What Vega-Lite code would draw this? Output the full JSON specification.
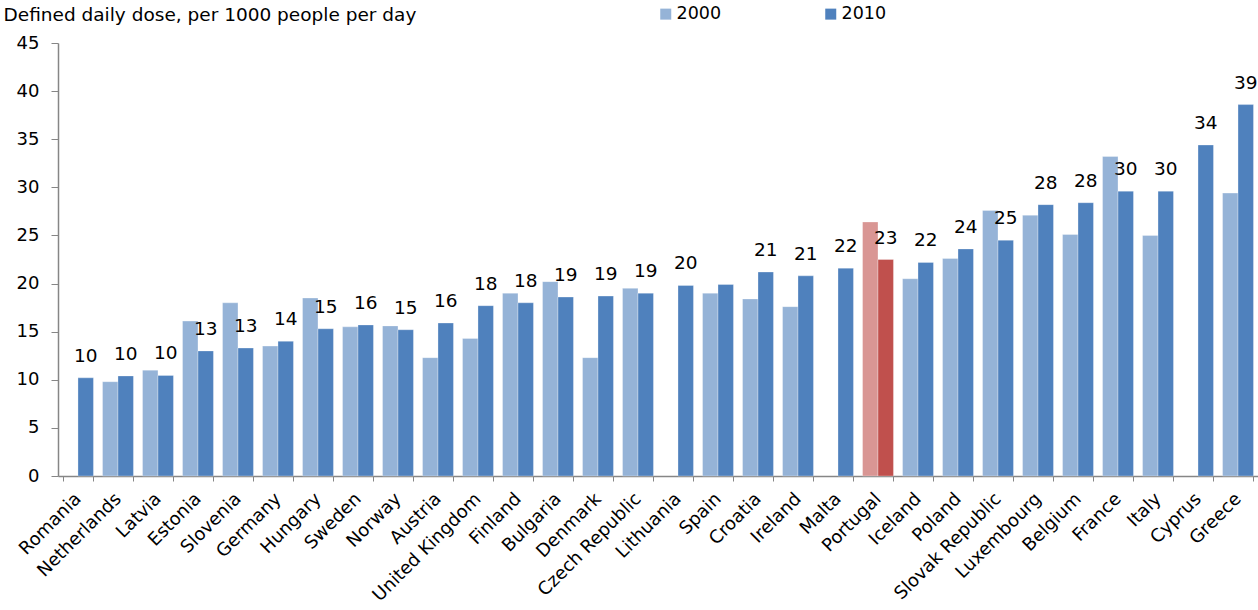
{
  "$schema": "https://vega.github.io/schema/vega-lite/v6.json",
  "width": 1200,
  "height": 433,
  "autosize": {"type": "none"},
  "padding": {"left": 58, "top": 43, "right": 0, "bottom": 134},
  "background": "white",
  "config": {
    "view": {"stroke": null},
    "font": "DejaVu Sans",
    "axis": {"labelFont": "DejaVu Sans", "titleFont": "DejaVu Sans", "labelColor": "#000000", "titleColor": "#000000"},
    "legend": {"labelFont": "DejaVu Sans"}
  },
  "data": {
    "values": [
      {"country": "Romania", "year": "2010", "series": "2010", "value": 10.2, "label": "10"},
      {"country": "Netherlands", "year": "2000", "series": "2000", "value": 9.8},
      {"country": "Netherlands", "year": "2010", "series": "2010", "value": 10.4, "label": "10"},
      {"country": "Latvia", "year": "2000", "series": "2000", "value": 11.0},
      {"country": "Latvia", "year": "2010", "series": "2010", "value": 10.45, "label": "10"},
      {"country": "Estonia", "year": "2000", "series": "2000", "value": 16.1},
      {"country": "Estonia", "year": "2010", "series": "2010", "value": 13.0, "label": "13"},
      {"country": "Slovenia", "year": "2000", "series": "2000", "value": 18.0},
      {"country": "Slovenia", "year": "2010", "series": "2010", "value": 13.3, "label": "13"},
      {"country": "Germany", "year": "2000", "series": "2000", "value": 13.5},
      {"country": "Germany", "year": "2010", "series": "2010", "value": 14.0, "label": "14"},
      {"country": "Hungary", "year": "2000", "series": "2000", "value": 18.5},
      {"country": "Hungary", "year": "2010", "series": "2010", "value": 15.3, "label": "15"},
      {"country": "Sweden", "year": "2000", "series": "2000", "value": 15.5},
      {"country": "Sweden", "year": "2010", "series": "2010", "value": 15.7, "label": "16"},
      {"country": "Norway", "year": "2000", "series": "2000", "value": 15.6},
      {"country": "Norway", "year": "2010", "series": "2010", "value": 15.2, "label": "15"},
      {"country": "Austria", "year": "2000", "series": "2000", "value": 12.3},
      {"country": "Austria", "year": "2010", "series": "2010", "value": 15.9, "label": "16"},
      {"country": "United Kingdom", "year": "2000", "series": "2000", "value": 14.3},
      {"country": "United Kingdom", "year": "2010", "series": "2010", "value": 17.7, "label": "18"},
      {"country": "Finland", "year": "2000", "series": "2000", "value": 19.0},
      {"country": "Finland", "year": "2010", "series": "2010", "value": 18.0, "label": "18"},
      {"country": "Bulgaria", "year": "2000", "series": "2000", "value": 20.2},
      {"country": "Bulgaria", "year": "2010", "series": "2010", "value": 18.6, "label": "19"},
      {"country": "Denmark", "year": "2000", "series": "2000", "value": 12.3},
      {"country": "Denmark", "year": "2010", "series": "2010", "value": 18.7, "label": "19"},
      {"country": "Czech Republic", "year": "2000", "series": "2000", "value": 19.5},
      {"country": "Czech Republic", "year": "2010", "series": "2010", "value": 19.0, "label": "19"},
      {"country": "Lithuania", "year": "2010", "series": "2010", "value": 19.8, "label": "20"},
      {"country": "Spain", "year": "2000", "series": "2000", "value": 19.0},
      {"country": "Spain", "year": "2010", "series": "2010", "value": 19.9, "label": ""},
      {"country": "Croatia", "year": "2000", "series": "2000", "value": 18.4},
      {"country": "Croatia", "year": "2010", "series": "2010", "value": 21.2, "label": "21"},
      {"country": "Ireland", "year": "2000", "series": "2000", "value": 17.6},
      {"country": "Ireland", "year": "2010", "series": "2010", "value": 20.8, "label": "21"},
      {"country": "Malta", "year": "2010", "series": "2010", "value": 21.6, "label": "22"},
      {"country": "Portugal", "year": "2000", "series": "Portugal 2000", "value": 26.4},
      {"country": "Portugal", "year": "2010", "series": "Portugal 2010", "value": 22.5, "label": "23"},
      {"country": "Iceland", "year": "2000", "series": "2000", "value": 20.5},
      {"country": "Iceland", "year": "2010", "series": "2010", "value": 22.2, "label": "22"},
      {"country": "Poland", "year": "2000", "series": "2000", "value": 22.6},
      {"country": "Poland", "year": "2010", "series": "2010", "value": 23.6, "label": "24"},
      {"country": "Slovak Republic", "year": "2000", "series": "2000", "value": 27.6},
      {"country": "Slovak Republic", "year": "2010", "series": "2010", "value": 24.5, "label": "25"},
      {"country": "Luxembourg", "year": "2000", "series": "2000", "value": 27.1},
      {"country": "Luxembourg", "year": "2010", "series": "2010", "value": 28.2, "label": "28"},
      {"country": "Belgium", "year": "2000", "series": "2000", "value": 25.1},
      {"country": "Belgium", "year": "2010", "series": "2010", "value": 28.4, "label": "28"},
      {"country": "France", "year": "2000", "series": "2000", "value": 33.2},
      {"country": "France", "year": "2010", "series": "2010", "value": 29.6, "label": "30"},
      {"country": "Italy", "year": "2000", "series": "2000", "value": 25.0},
      {"country": "Italy", "year": "2010", "series": "2010", "value": 29.6, "label": "30"},
      {"country": "Cyprus", "year": "2010", "series": "2010", "value": 34.4, "label": "34"},
      {"country": "Greece", "year": "2000", "series": "2000", "value": 29.4},
      {"country": "Greece", "year": "2010", "series": "2010", "value": 38.6, "label": "39"}
    ]
  },
  "encoding": {
    "x": {
      "field": "country",
      "type": "nominal",
      "sort": null,
      "scale": {"paddingInner": 0.227, "paddingOuter": 0.113},
      "axis": {
        "title": null,
        "labelAngle": -45,
        "labelAlign": "right",
        "labelBaseline": "middle",
        "labelFontSize": 18,
        "labelPadding": 15,
        "tickBand": "extent",
        "tickSize": 5,
        "tickColor": "#868686",
        "domainColor": "#868686",
        "domainWidth": 1.5,
        "labelOverlap": false,
        "labelLimit": 300
      }
    },
    "xOffset": {"field": "year", "type": "nominal", "scale": {"domain": ["2000", "2010"], "paddingInner": 0}},
    "y": {
      "field": "value",
      "type": "quantitative",
      "scale": {"domain": [0, 45], "nice": false},
      "axis": {
        "values": [0, 5, 10, 15, 20, 25, 30, 35, 40, 45],
        "grid": false,
        "labelFontSize": 18,
        "labelPadding": 12,
        "tickSize": 7,
        "tickColor": "#868686",
        "domainColor": "#868686",
        "domainWidth": 1.5,
        "title": "Defined daily dose, per 1000 people per day",
        "titleAngle": 0,
        "titleAlign": "left",
        "titleBaseline": "alphabetic",
        "titleX": -55,
        "titleY": -22.5,
        "titleFontSize": 18.5,
        "titleFontWeight": "normal"
      }
    }
  },
  "layer": [
    {
      "mark": {"type": "bar", "stroke": "white", "strokeWidth": 0.5, "strokeOpacity": 0.6},
      "encoding": {
        "color": {
          "field": "series",
          "type": "nominal",
          "scale": {
            "domain": ["2000", "2010", "Portugal 2000", "Portugal 2010"],
            "range": ["#95B3D7", "#4F81BD", "#D99694", "#C0504D"]
          },
          "legend": {
            "values": ["2000", "2010"],
            "title": null,
            "orient": "none",
            "direction": "horizontal",
            "legendX": 599,
            "legendY": -38,
            "symbolType": "square",
            "symbolSize": 121,
            "symbolStrokeWidth": 0,
            "labelFontSize": 17.5,
            "labelOffset": 2,
            "columnPadding": 100,
            "labelColor": "#000000"
          }
        }
      }
    },
    {
      "transform": [{"filter": "datum.year == '2010'"}],
      "mark": {"type": "text", "baseline": "alphabetic", "align": "center", "dy": -16, "fontSize": 18.5, "color": "#000000"},
      "encoding": {
        "text": {"field": "label", "type": "nominal"}
      }
    }
  ]
}
